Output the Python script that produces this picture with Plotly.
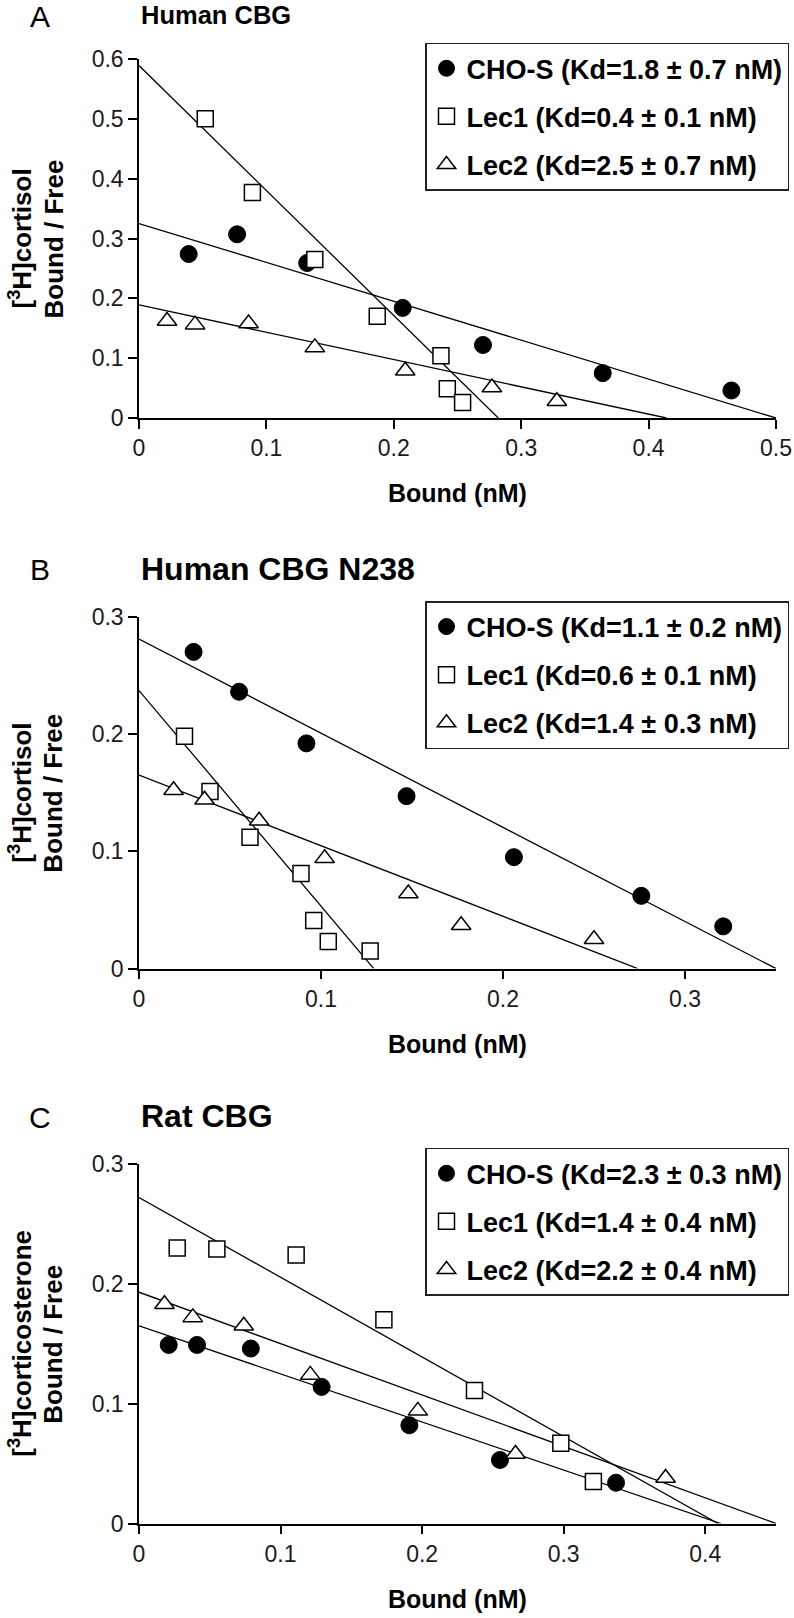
import plotly.graph_objects as go

W, H = 794, 1618
FONT = "Liberation Sans, Arial, sans-serif"

series_names = ["CHO-S", "Lec1", "Lec2"]

# ---- Panel A: Human CBG ----
a_cho_x = [0.039, 0.077, 0.132, 0.207, 0.270, 0.364, 0.465]
a_cho_y = [0.274, 0.307, 0.259, 0.184, 0.122, 0.075, 0.046]
a_lec1_x = [0.052, 0.089, 0.138, 0.187, 0.237, 0.242, 0.254]
a_lec1_y = [0.500, 0.377, 0.265, 0.170, 0.104, 0.049, 0.026]
a_lec2_x = [0.022, 0.044, 0.086, 0.138, 0.209, 0.277, 0.328]
a_lec2_y = [0.162, 0.156, 0.158, 0.118, 0.079, 0.051, 0.028]
a_fit_y0 = [0.325, 0.589, 0.189]      # Bound/Free at Bound = 0
a_fit_xint = [0.500, 0.282, 0.414]    # Bound at Bound/Free = 0
a_kd = ["1.8 ± 0.7", "0.4 ± 0.1", "2.5 ± 0.7"]

# ---- Panel B: Human CBG N238 ----
b_cho_x = [0.030, 0.055, 0.092, 0.147, 0.206, 0.276, 0.321]
b_cho_y = [0.270, 0.236, 0.192, 0.147, 0.095, 0.062, 0.036]
b_lec1_x = [0.025, 0.039, 0.061, 0.089, 0.096, 0.104, 0.127]
b_lec1_y = [0.198, 0.151, 0.112, 0.081, 0.041, 0.023, 0.015]
b_lec2_x = [0.019, 0.036, 0.066, 0.102, 0.148, 0.177, 0.250]
b_lec2_y = [0.152, 0.144, 0.126, 0.094, 0.064, 0.037, 0.025]
b_fit_y0 = [0.281, 0.237, 0.165]
b_fit_xint = [0.350, 0.129, 0.274]
b_kd = ["1.1 ± 0.2", "0.6 ± 0.1", "1.4 ± 0.3"]

# ---- Panel C: Rat CBG ----
c_cho_x = [0.021, 0.041, 0.079, 0.129, 0.191, 0.255, 0.337]
c_cho_y = [0.149, 0.149, 0.146, 0.114, 0.082, 0.053, 0.034]
c_lec1_x = [0.027, 0.055, 0.111, 0.173, 0.237, 0.298, 0.321]
c_lec1_y = [0.230, 0.229, 0.224, 0.170, 0.111, 0.067, 0.035]
c_lec2_x = [0.018, 0.038, 0.074, 0.121, 0.197, 0.266, 0.372]
c_lec2_y = [0.183, 0.172, 0.165, 0.124, 0.094, 0.058, 0.038]
c_fit_y0 = [0.165, 0.272, 0.193]
c_fit_xint = [0.411, 0.409, 0.450]
c_kd = ["2.3 ± 0.3", "1.4 ± 0.4", "2.2 ± 0.4"]

panels = [
    dict(letter="A", title="Human CBG", title_size=25.5, ylab="[<sup>3</sup>H]cortisol",
         xr=0.5, yr=0.6, top=59, bottom=418,
         pts=[(a_cho_x, a_cho_y), (a_lec1_x, a_lec1_y), (a_lec2_x, a_lec2_y)],
         fit=(a_fit_y0, a_fit_xint), kd=a_kd, leg_top=42.7, head_y=15),
    dict(letter="B", title="Human CBG N238", title_size=32, ylab="[<sup>3</sup>H]cortisol",
         xr=0.35, yr=0.3, top=616.7, bottom=968.6,
         pts=[(b_cho_x, b_cho_y), (b_lec1_x, b_lec1_y), (b_lec2_x, b_lec2_y)],
         fit=(b_fit_y0, b_fit_xint), kd=b_kd, leg_top=601, head_y=569),
    dict(letter="C", title="Rat CBG", title_size=32, ylab="[<sup>3</sup>H]corticosterone",
         xr=0.45, yr=0.3, top=1164, bottom=1523.5,
         pts=[(c_cho_x, c_cho_y), (c_lec1_x, c_lec1_y), (c_lec2_x, c_lec2_y)],
         fit=(c_fit_y0, c_fit_xint), kd=c_kd, leg_top=1147.7, head_y=1116),
]


def px_x(v):
    return v / W


def px_y(v):
    return 1 - v / H


X0, X1 = 139, 776
markers = [
    dict(symbol="circle", size=17, color="black", line=dict(color="black", width=1)),
    dict(symbol="square", size=16, color="white", line=dict(color="black", width=1.5)),
    dict(symbol="triangle-up", size=17, color="white", line=dict(color="black", width=1.5)),
]

fig = go.Figure()
annotations = []
layout = {}

for i, p in enumerate(panels):
    n = "" if i == 0 else str(i + 1)
    xa, ya = "x" + n, "y" + n
    leg = "legend" + n

    # fitted Scatchard lines
    y0s, xints = p["fit"]
    for k in range(3):
        fig.add_trace(go.Scatter(
            x=[0, xints[k]], y=[y0s[k], 0], mode="lines",
            line=dict(color="black", width=1.3), showlegend=False,
            hoverinfo="skip", xaxis=xa, yaxis=ya))

    # data points
    for k, (xs, ys) in enumerate(p["pts"]):
        fig.add_trace(go.Scatter(
            x=xs, y=ys, mode="markers", marker=markers[k], cliponaxis=False,
            name=f"{series_names[k]} (Kd={p['kd'][k]} nM)",
            legend=leg, legendgroup=f"{i}-{k}", xaxis=xa, yaxis=ya))

    ax_common = dict(showline=True, linecolor="black", linewidth=1.5,
                     ticks="outside", ticklen=9, tickwidth=1.5, tickcolor="black",
                     showgrid=False, zeroline=False, automargin=False,
                     ticklabeloverflow="allow",
                     tickfont=dict(family=FONT, size=23, color="#1a1a1a"))
    layout["xaxis" + n] = dict(ax_common, domain=[px_x(X0), px_x(X1)], range=[0, p["xr"]],
                               dtick=0.1, tick0=0, anchor=ya)
    layout["yaxis" + n] = dict(ax_common, domain=[px_y(p["bottom"]), px_y(p["top"])],
                               range=[0, p["yr"]], dtick=0.1, tick0=0, anchor=xa)

    layout[leg] = dict(x=px_x(425), y=px_y(p["leg_top"]), xanchor="left", yanchor="top",
                       xref="container", yref="container",
                       bordercolor="#222", borderwidth=1.5, bgcolor="white",
                       font=dict(family=FONT, size=27, color="black", weight="bold"),
                       tracegroupgap=10, traceorder="grouped")

    # panel letter and title
    annotations.append(dict(text=p["letter"], x=px_x(40), y=px_y(p["head_y"] + 1),
                            xref="paper", yref="paper", xanchor="center", yanchor="middle",
                            showarrow=False, font=dict(family=FONT, size=30, color="black")))
    annotations.append(dict(text="<b>" + p["title"] + "</b>", x=px_x(X0), y=px_y(p["head_y"]),
                            xref="paper", yref="paper", xanchor="left", yanchor="middle",
                            showarrow=False,
                            font=dict(family=FONT, size=p["title_size"], color="black")))
    # axis titles: one annotation per line of the rotated label
    mid = (p["top"] + p["bottom"]) / 2
    for txt, xc in ((p["ylab"], 21), ("Bound / Free", 53)):
        annotations.append(dict(text="<b>" + txt + "</b>",
                                x=px_x(xc), y=px_y(mid), xref="paper", yref="paper",
                                xanchor="center", yanchor="middle", textangle=-90,
                                showarrow=False,
                                font=dict(family=FONT, size=26, color="black")))
    annotations.append(dict(text="<b>Bound (nM)</b>", x=px_x((X0 + X1) / 2),
                            y=px_y(p["bottom"] + 75), xref="paper", yref="paper",
                            xanchor="center", yanchor="middle", showarrow=False,
                            font=dict(family=FONT, size=25, color="black")))

fig.update_layout(
    width=W, height=H,
    margin=dict(l=0, r=0, t=0, b=0, autoexpand=False),
    paper_bgcolor="white", plot_bgcolor="white",
    annotations=annotations,
    **layout,
)

# drop the browser's default 8px body margin so the figure sits at the page corner
fig.write_html("out.html", config={"displayModeBar": False},
               post_script="document.body.style.margin = '0px';")
